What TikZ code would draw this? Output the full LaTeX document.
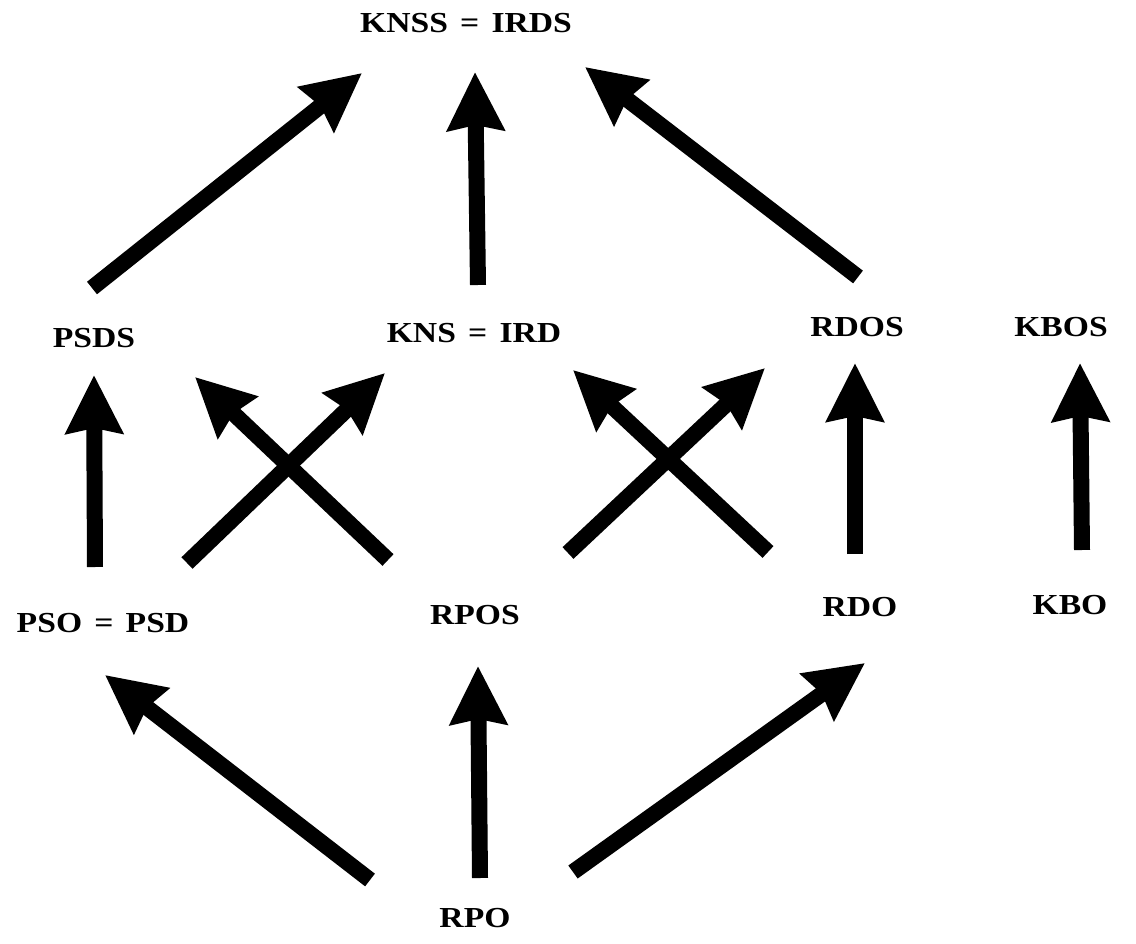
\documentclass[tikz,border=0pt]{standalone}
\usepackage{fontspec}
\setmainfont{Liberation Serif}[FakeStretch=1.16]
\usetikzlibrary{arrows.meta}
\tikzset{
  lbl/.style={inner sep=0pt, font=\fontsize{29}{34}\selectfont\bfseries},
  bigarrow/.style={line width=16pt, -{Stealth[length=58pt,width=56pt,inset=5pt]}}
}
\newcommand{\eqsp}{\hspace{0.42em}=\hspace{0.42em}}
\begin{document}
\begin{tikzpicture}[x=1pt,y=-1pt]
  \useasboundingbox (0,0) rectangle (1136,944);
  % labels
  \node[lbl] (knss) at (466,23)  {KNSS\eqsp IRDS};
  \node[lbl] (psds) at (94,338)  {PSDS};
  \node[lbl] (kns)  at (474,333) {KNS\eqsp IRD};
  \node[lbl] (rdos) at (857,327) {RDOS};
  \node[lbl] (kbos) at (1061,327){KBOS};
  \node[lbl] (pso)  at (103,623) {PSO\eqsp PSD};
  \node[lbl] (rpos) at (475,615) {RPOS};
  \node[lbl] (rdo)  at (860,607) {RDO};
  \node[lbl] (kbo)  at (1070,605){KBO};
  \node[lbl] (rpo)  at (475,918) {RPO};
  % arrow ends
  \coordinate (a1s) at (92,288);   \coordinate (a1e) at (362,73);
  \coordinate (a2s) at (478,285);  \coordinate (a2e) at (475,72);
  \coordinate (a3s) at (858,277);  \coordinate (a3e) at (585,67);
  \coordinate (b1s) at (95,567);   \coordinate (b1e) at (94,375);
  \coordinate (b2s) at (388,560);  \coordinate (b2e) at (195,377);
  \coordinate (b3s) at (187,563);  \coordinate (b3e) at (385,373);
  \coordinate (b4s) at (568,553);  \coordinate (b4e) at (765,368);
  \coordinate (b5s) at (768,552);  \coordinate (b5e) at (573,370);
  \coordinate (b6s) at (855,554);  \coordinate (b6e) at (855,363);
  \coordinate (b7s) at (1082,550); \coordinate (b7e) at (1080,363);
  \coordinate (c1s) at (370,880);  \coordinate (c1e) at (105,675);
  \coordinate (c2s) at (480,878);  \coordinate (c2e) at (478,666);
  \coordinate (c3s) at (573,872);  \coordinate (c3e) at (865,663);
  % arrows
  \foreach \a in {a1,a2,a3,b1,b2,b3,b4,b5,b6,b7,c1,c2,c3}
    \draw[bigarrow] (\a s) -- (\a e);
\end{tikzpicture}
\end{document}
